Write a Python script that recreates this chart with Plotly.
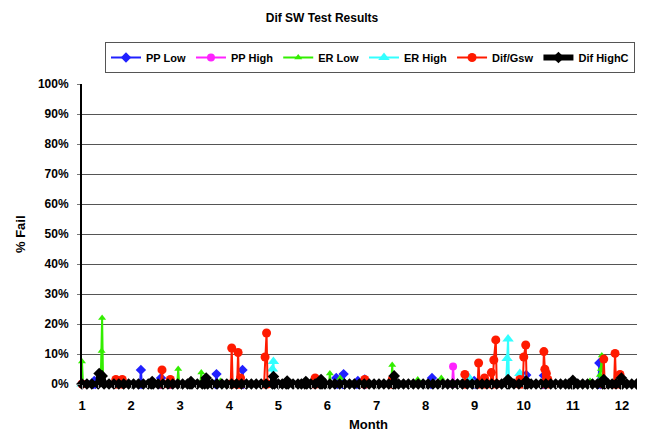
import plotly.graph_objects as go

# ---- data: (month, % fail) pairs ----
pp_low = [(1.0,0),(1.23,0),(1.25,1),(1.27,0),(2.18,0),(2.2,4.7),(2.22,0),(2.59,0),(2.61,2),(2.63,0),
          (2.78,0),(2.8,1),(2.82,0),(3.72,0),(3.74,3.3),(3.76,0),(4.25,0),(4.27,4.7),(4.29,0),
          (6.16,0),(6.18,2),(6.2,0),(6.31,0),(6.33,3.3),(6.35,0),(6.6,0),(6.62,1),(6.64,0),
          (6.74,0),(6.76,1.5),(6.78,0),(8.11,0),(8.13,2),(8.15,0),(8.97,0),(8.99,1),(9.01,0),
          (10.03,0),(10.05,3),(10.07,0),(10.39,0),(10.41,2.8),(10.43,0),(11.52,0),(11.54,7),(11.56,0),(12.47,0)]

pp_high = [(1.0,0),(8.54,0),(8.56,5.8),(8.58,0),(12.47,0)]

er_low = [(1.0,7.5),(1.02,0),(1.38,0),(1.40,11),(1.41,22),(1.43,0),(2.94,0),(2.96,5),(2.98,0),
          (3.41,0),(3.43,3.8),(3.45,0),(3.80,0),(3.82,1),(3.84,0),(4.18,0),(4.2,2),(4.22,0),
          (6.03,0),(6.05,3.5),(6.07,0),(6.24,0),(6.26,2),(6.28,0),(7.30,0),(7.32,6.3),(7.34,0),
          (7.82,0),(7.84,1.5),(7.86,0),(8.30,0),(8.32,2),(8.34,0),(11.33,0),(11.35,1),(11.37,0),
          (11.53,0),(11.55,3),(11.57,5),(11.59,9.5),(11.61,0),(12.47,0)]

er_high = [(1.0,0),(4.86,0),(4.88,5),(4.90,7.5),(4.92,0),(8.87,0),(8.89,2),(8.91,0),
           (9.64,0),(9.66,8.5),(9.68,15),(9.70,0),(9.90,0),(9.92,3.5),(9.94,0),(12.47,0)]

dif_gsw = [(1.0,0),(1.67,0),(1.69,1.5),(1.71,0),(1.80,0),(1.82,1.5),(1.84,0),(2.61,0),(2.63,4.7),(2.65,0),
           (2.78,0),(2.80,1.5),(2.82,0),(4.03,0),(4.05,12),(4.07,0),(4.16,0),(4.18,10.5),(4.20,0),
           (4.21,0),(4.23,2),(4.25,0),(4.71,0),(4.73,9),(4.76,17),(4.78,0),(5.73,0),(5.75,2),(5.77,0),
           (6.74,0),(6.76,1.5),(6.78,0),(7.30,0),(7.32,1.5),(7.34,0),(8.78,0),(8.80,3.2),(8.82,0),
           (9.06,0),(9.08,7),(9.10,0),(9.18,0),(9.20,2),(9.22,0),(9.32,0),(9.34,3.8),(9.36,0),
           (9.37,0),(9.39,8),(9.43,14.7),(9.45,0),(9.90,0),(9.92,1.5),(9.94,0),(9.98,0),(10.0,9),
           (10.04,13),(10.06,0),(10.39,0),(10.41,10.8),(10.43,4.9),(10.46,3.5),(10.49,1.5),(10.51,0),
           (11.61,0),(11.63,8.3),(11.65,0),(11.84,0),(11.86,10.2),(11.88,0),(11.94,0),(11.96,3.2),(11.98,0),
           (12.43,0),(12.45,1),(12.47,0)]

dif_highc = [(1.0,0),(1.1,0),(1.2,0),(1.33,0),(1.35,3.5),(1.41,2.7),(1.45,0),(1.55,0),(1.65,0),(1.75,0),
             (1.85,0),(1.95,0),(2.05,0),(2.15,0),(2.25,0),(2.35,0),(2.41,0),(2.43,0.8),(2.45,0),(2.55,0),
             (2.65,0),(2.75,0),(2.85,0),(2.95,0),(3.05,0),(3.15,0),(3.2,0),(3.22,0.8),(3.24,0),(3.35,0),
             (3.45,0),(3.5,0),(3.53,2),(3.56,0),(3.65,0),(3.75,0),(3.85,0),(3.95,0),(4.05,0),(4.15,0),
             (4.25,0),(4.35,0),(4.45,0),(4.55,0),(4.65,0),(4.75,0),(4.88,0),(4.9,2.5),(4.92,0),(5.0,0),
             (5.08,0),(5.16,0),(5.18,1),(5.2,0),(5.3,0),(5.4,0),(5.47,0),(5.54,0),(5.56,0.8),(5.58,0),
             (5.66,0),(5.75,0),(5.85,0),(5.87,1.5),(5.89,0),(5.95,0),(6.05,0),(6.15,0),(6.25,0),(6.35,0),
             (6.45,0),(6.55,0),(6.65,0),(6.75,0),(6.85,0),(6.95,0),(7.05,0),(7.15,0),(7.25,0),(7.34,0),
             (7.36,2.7),(7.38,0),(7.45,0),(7.55,0),(7.65,0),(7.75,0),(7.85,0),(7.95,0),(8.05,0),(8.15,0),
             (8.25,0),(8.35,0),(8.45,0),(8.55,0),(8.65,0),(8.75,0),(8.85,0),(8.95,0),(9.05,0),(9.15,0),
             (9.25,0),(9.35,0),(9.45,0),(9.55,0),(9.66,0),(9.68,1.5),(9.7,0),(9.8,0),(9.9,0),(10.03,0),
             (10.05,1),(10.07,0),(10.15,0),(10.25,0),(10.35,0),(10.45,0),(10.55,0),(10.65,0),(10.75,0),
             (10.85,0),(10.92,0),(10.98,0),(11.0,1.2),(11.02,0),(11.1,0),(11.2,0),(11.3,0),(11.4,0),
             (11.5,0),(11.61,0),(11.63,1.5),(11.65,0),(11.72,0),(11.8,0),(11.88,0),(11.97,0),(11.99,2),
             (12.01,0),(12.1,0),(12.2,0),(12.3,0),(12.38,0),(12.4,1),(12.42,0),(12.47,0)]

month_ticks = [1, 2, 3, 4, 5, 6, 7, 8, 9, 10, 11, 12]
pct_ticks = [0, 10, 20, 30, 40, 50, 60, 70, 80, 90, 100]

series = [
    ("PP Low", pp_low, "#2020ff", "diamond", 8, 2),
    ("PP High", pp_high, "#ff22ff", "circle", 8, 2),
    ("ER Low", er_low, "#33ee00", "triangle-up", 7, 2),
    ("ER High", er_high, "#33ffff", "triangle-up", 10, 2),
    ("Dif/Gsw", dif_gsw, "#ff1a00", "circle", 9, 2),
    ("Dif HighC", dif_highc, "#000000", "diamond", 9, 6),
]

# the page body adds an 8px offset; figure coordinates below compensate for it
W, H = 637, 426
L, T, PW, PH = 74, 76, 563, 300

FONT = "Liberation Sans, Arial, sans-serif"
fig = go.Figure()
for name, pts, color, sym, size, lw in series:
    fig.add_trace(go.Scatter(
        x=[p[0] for p in pts], y=[p[1] for p in pts], name=name, mode="lines+markers",
        line=dict(color=color, width=lw), cliponaxis=False,
        marker=dict(symbol=sym, size=size, color=color, line=dict(width=0)),
    ))

fig.update_layout(
    width=W, height=H, plot_bgcolor="white", paper_bgcolor="white",
    margin=dict(l=L, r=W - L - PW, t=T, b=H - T - PH, autoexpand=False),
    font=dict(family=FONT, size=12, color="black", weight="bold"),
    title=dict(text="Dif SW Test Results", x=314 / W, xref="container", y=1 - 10 / H,
               yref="container", xanchor="center", yanchor="middle",
               font=dict(size=12, weight="bold")),
    legend=dict(orientation="h", x=362 / W, xref="container", xanchor="center",
                y=(T + PH - 34) / PH, yanchor="top",
                bordercolor="#555555", borderwidth=1, font=dict(size=11, weight="bold"),
                itemwidth=30, tracegroupgap=0),
    showlegend=True,
)
fig.update_xaxes(range=[1, 12.47], tickvals=month_ticks, ticktext=[str(m) for m in month_ticks],
                 showgrid=False, zeroline=False, showline=False, ticks="outside", ticklen=4,
                 tickcolor="#999999", ticklabelstandoff=5,
                 minor=dict(dtick=1/3, tick0=1, ticks="outside", ticklen=3, tickcolor="#999999"),
                 tickfont=dict(size=13, weight="bold"))
fig.update_yaxes(range=[0, 100], tickvals=pct_ticks, ticktext=[f"{v}%" for v in pct_ticks],
                 showgrid=True, gridcolor="#555555", gridwidth=1, zeroline=False,
                 showline=True, linecolor="black", linewidth=2, ticks="outside", ticklen=3,
                 tickcolor="#777777", ticklabelstandoff=6, tickfont=dict(size=12, weight="bold"))
fig.add_annotation(text="% Fail", x=(12 - L) / PW, y=0.5, xref="paper", yref="paper",
                   xanchor="center", yanchor="middle",
                   showarrow=False, textangle=-90, font=dict(size=13, weight="bold"))
fig.add_annotation(text="Month", x=(360 - L) / PW, y=(T + PH - 416) / PH, xref="paper",
                   yref="paper", xanchor="center", yanchor="middle",
                   showarrow=False, font=dict(size=13, weight="bold"))
fig.write_html("out.html")
